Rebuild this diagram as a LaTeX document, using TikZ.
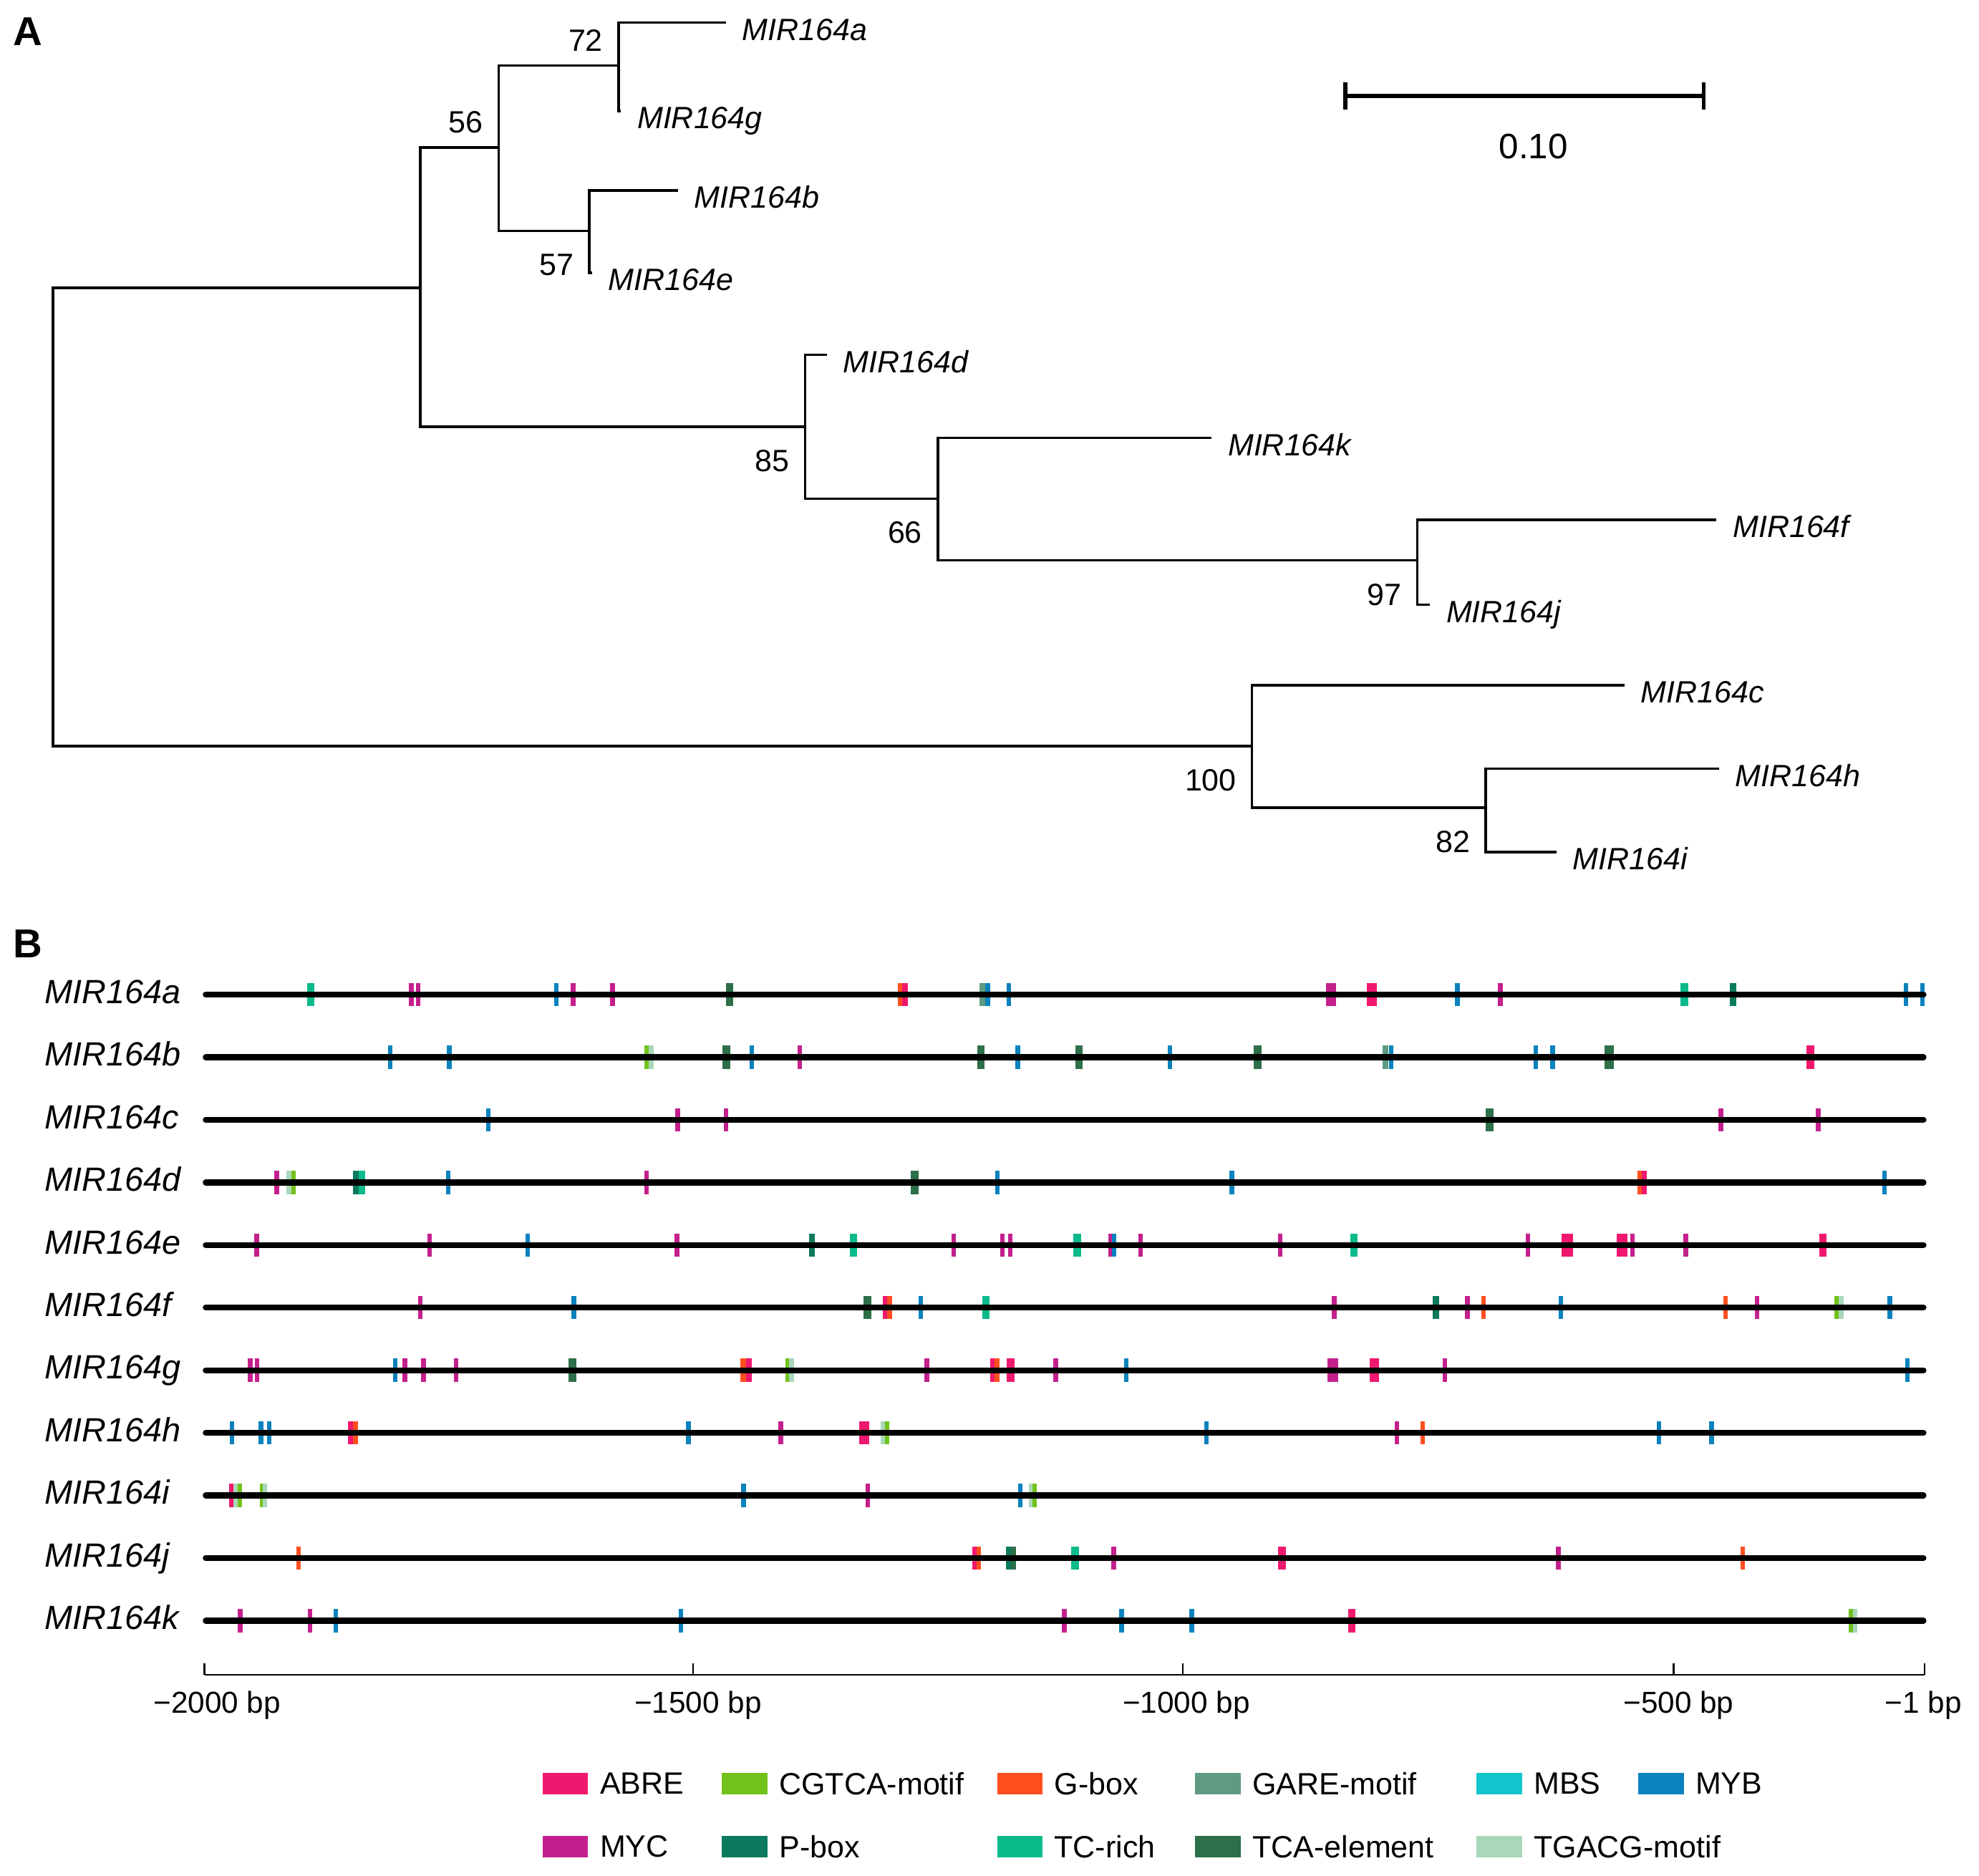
\documentclass[tikz,border=0pt]{standalone}
\usepackage{fontspec}
\setmainfont{Liberation Sans}
\usetikzlibrary{calc,positioning}

\definecolor{abre}{HTML}{F0186E}
\definecolor{cgtca}{HTML}{72C21C}
\definecolor{gbox}{HTML}{FF4F1F}
\definecolor{gare}{HTML}{5E9B80}
\definecolor{mbs}{HTML}{12C4CB}
\definecolor{myb}{HTML}{0A82BE}
\definecolor{myc}{HTML}{C4208D}
\definecolor{pbox}{HTML}{0B7A5D}
\definecolor{tcrich}{HTML}{0BBA8B}
\definecolor{tca}{HTML}{2D6F48}
\definecolor{tgacg}{HTML}{A8D8B9}

\tikzset{
  branch/.style={line width=1pt},
  leaf/.style={anchor=base west, inner sep=0pt, xshift=6pt, yshift=-7pt,
    font=\fontsize{12.2}{14}\selectfont\itshape},
  boot/.style={anchor=east, inner sep=0pt, font=\fontsize{12.2}{14}\selectfont},
  panel/.style={inner sep=0pt, font=\fontsize{16}{18}\selectfont\bfseries},
  rowlbl/.style={anchor=base west, inner sep=0pt, font=\fontsize{13.3}{15}\selectfont\itshape},
  seq/.style={line width=2.35pt, line cap=round},
  axis/.style={line width=0.65pt},
  ticklbl/.style={anchor=base, inner sep=0pt, font=\fontsize{12}{14}\selectfont},
  legtext/.style={anchor=west, inner sep=0pt, font=\fontsize{12.2}{14}\selectfont}
}

% motif marks of one promoter row: y, list of x/colour/width
\newcommand{\motifs}[2]{%
  \foreach \x/\c/\w in {#2}
    {\fill[\c] ({\x-\w/2},{#1-9.2}) rectangle ({\x+\w/2},{#1+9.2});}}

\begin{document}
\begin{tikzpicture}[x=0.5pt, y=-0.5pt]
  \useasboundingbox (0,0) rectangle (1568,1486);

  % panel letters
  \node[panel] (pA) at (22,25) {A};
  \node[panel] (pB) at (22,748) {B};

  % ---------------- A: tree ----------------
  \coordinate (root) at (42,410);
  \coordinate (n1) at (333,228);
  \coordinate (n2) at (395,117);
  \coordinate (n3) at (490,52);
  \coordinate (n4) at (467,183);
  \coordinate (n5) at (638,338);
  \coordinate (n6) at (743,395);
  \coordinate (n7) at (1123,444);
  \coordinate (n8) at (992,591);
  \coordinate (n9) at (1177,640);

  \coordinate (la) at (575,18);
  \coordinate (lg) at (492,88);
  \coordinate (lb) at (537,151);
  \coordinate (le) at (469,216);
  \coordinate (ld) at (655,281);
  \coordinate (lk) at (960,347);
  \coordinate (lf) at (1360,412);
  \coordinate (lj) at (1133,479);
  \coordinate (lc) at (1287,543);
  \coordinate (lh) at (1362,609);
  \coordinate (li) at (1233,675);

  \draw[branch] (root) |- (n1);
  \draw[branch] (root) |- (n8);
  \draw[branch] (n1) |- (n2);
  \draw[branch] (n1) |- (n5);
  \draw[branch] (n2) |- (n3);
  \draw[branch] (n2) |- (n4);
  \draw[branch] (n3) |- (la) node[leaf] {MIR164a};
  \draw[branch] (n3) |- (lg) node[leaf] {MIR164g};
  \draw[branch] (n4) |- (lb) node[leaf] {MIR164b};
  \draw[branch] (n4) |- (le) node[leaf] {MIR164e};
  \draw[branch] (n5) |- (ld) node[leaf] {MIR164d};
  \draw[branch] (n5) |- (n6);
  \draw[branch] (n6) |- (lk) node[leaf] {MIR164k};
  \draw[branch] (n6) |- (n7);
  \draw[branch] (n7) |- (lf) node[leaf] {MIR164f};
  \draw[branch] (n7) |- (lj) node[leaf] {MIR164j};
  \draw[branch] (n8) |- (lc) node[leaf] {MIR164c};
  \draw[branch] (n8) |- (n9);
  \draw[branch] (n9) |- (lh) node[leaf] {MIR164h};
  \draw[branch] (n9) |- (li) node[leaf] {MIR164i};

  % bootstrap values
  \node[boot] (b3) at ($(n3)+(-12,-20)$) {72};
  \node[boot] (b2) at ($(n2)+(-12,-20)$) {56};
  \node[boot] (b4) at ($(n4)+(-12,27)$) {57};
  \node[boot] (b5) at ($(n5)+(-12,27)$) {85};
  \node[boot] (b6) at ($(n6)+(-12,27)$) {66};
  \node[boot] (b7) at ($(n7)+(-12,27)$) {97};
  \node[boot] (b8) at ($(n8)+(-12,27)$) {100};
  \node[boot] (b9) at ($(n9)+(-12,27)$) {82};

  % scale bar
  \coordinate (sb1) at (1066,76);
  \coordinate (sb2) at (1350,76);
  \draw[line width=1.5pt] (sb1) -- (sb2);
  \draw[line width=1.5pt] ($(sb1)+(0,-11)$) -- ($(sb1)+(0,11)$);
  \draw[line width=1.5pt] ($(sb2)+(0,-11)$) -- ($(sb2)+(0,11)$);
  \node[inner sep=0pt, font=\fontsize{14}{16}\selectfont] (sbl) at (1215,116) {0.10};

  % ---------------- B: promoter motifs ----------------
  \motifs{788}{246.3/tcrich/6, 325.9/myc/3.6, 331.3/myc/3.6, 440.9/myb/3.6, 454.1/myc/3.6,
    485.3/myc/3.6, 578.1/tca/6, 713.5/gbox/4, 717/abre/5, 778.5/gare/4.5, 782.7/myb/4,
    799.2/myb/3.6, 1052.6/myc/4, 1056.5/myc/4, 1085.1/abre/4, 1088.7/abre/4, 1154.8/myb/3.6,
    1188.7/myc/3.6, 1334.4/tcrich/6, 1373.1/pbox/5, 1510/myb/3.6, 1523.3/myb/3.6}
  \motifs{837.6}{309.1/myb/3.6, 355.9/myb/3.6, 512.1/cgtca/3.6, 516/tgacg/3.6, 575.4/tca/6,
    595.5/myb/3.6, 633.7/myc/3.6, 777.3/tca/6, 806.4/myb/3.6, 855/tca/6, 927.1/myb/3.6,
    996.5/tca/6, 1097.7/gare/4.5, 1102.2/myb/3.6, 1217/myb/3.6, 1230.2/myb/3.6,
    1274.9/tca/7, 1434.4/abre/6}
  \motifs{887.2}{386.8/myb/3.6, 537/myc/3.6, 575.1/myc/3.6, 1180.3/tca/6, 1363.5/myc/3.6,
    1440.7/myc/3.6}
  \motifs{936.8}{219.3/myc/3.6, 228.9/tgacg/3.6, 232.5/cgtca/3.6, 282.3/pbox/5,
    286.8/tcrich/5, 355/myb/3.6, 512.4/myc/3.6, 724.7/tca/6, 790.2/myb/3.6, 976.1/myb/3.6,
    1298.9/gbox/3.6, 1302.8/abre/3.6, 1493.2/myb/3.6}
  \motifs{986.4}{203.4/myc/3.6, 340.3/myc/3.6, 418.1/myb/3.6, 536.4/myc/3.6, 643.3/pbox/5,
    676.1/tcrich/6, 755.7/myc/3.6, 794.1/myc/3.6, 800.4/myc/3.6, 853.5/tcrich/6, 880/myc/3.6,
    882.7/myb/3.6, 903.7/myc/3.6, 1014.2/myc/3.6, 1072.8/tcrich/6, 1210.6/myc/3.6,
    1239.8/abre/5, 1244/abre/5, 1283.6/abre/5, 1287.2/abre/5, 1293.5/myc/3.6, 1335.6/myc/3.6,
    1444.3/abre/6}
  \motifs{1036}{333.1/myc/3.6, 454.7/myb/3.6, 687.2/tca/6, 701/abre/3.6, 704.9/gbox/3.6,
    729.5/myb/3.6, 781.2/tcrich/6, 1057.1/myc/3.6, 1137.7/pbox/5, 1162.6/myc/3.6,
    1175.5/gbox/3.6, 1236.8/myb/3.6, 1367.1/gbox/3.6, 1392/myc/3.6, 1455.4/cgtca/3.6,
    1458.7/tgacg/3.6, 1497.4/myb/3.6}
  \motifs{1085.6}{198.2/myc/3.6, 203.7/myc/3.6, 313.3/myb/3.6, 320.8/myc/3.6, 335.5/myc/3.6,
    361.3/myc/3.6, 453.5/tca/6, 589.2/gbox/5, 593.4/abre/5, 624.1/cgtca/3.6, 627.1/tgacg/3.6,
    734.3/myc/3.6, 786.3/abre/4, 789.9/gbox/4, 800.7/abre/6, 836.4/myc/3.6, 892.3/myb/3.6,
    1054/myc/4, 1058/myc/4, 1087/abre/4, 1090.5/abre/4, 1144.6/myc/3.6, 1511.2/myb/3.6}
  \motifs{1135.2}{183.8/myb/3.6, 206.7/myb/3.6, 213.3/myb/3.6, 277.8/abre/4, 281.7/gbox/4,
    545.4/myb/3.6, 618.7/myc/3.6, 683/abre/4, 686.5/abre/4, 699.8/tgacg/3.6, 702.8/cgtca/3.6,
    955.9/myb/3.6, 1106.7/myc/3.6, 1127.2/gbox/3.6, 1314.5/myb/3.6, 1356/myb/3.6}
  \motifs{1184.8}{183.2/abre/3.6, 186.8/tgacg/3.6, 190.1/cgtca/3.6, 207.6/cgtca/3.6,
    210/tgacg/3.6, 589.2/myb/3.6, 687.5/myc/3.6, 808.2/myb/3.6, 816.9/tgacg/3.6,
    819.9/cgtca/3.6}
  \motifs{1234.4}{236.6/gbox/3.6, 771.9/abre/3.6, 775.5/gbox/3.6, 799/pbox/4, 803/tca/4,
    851.7/tcrich/6, 882.4/myc/3.6, 1015.7/abre/6, 1234.7/myc/3.6, 1380.8/gbox/3.6}
  \motifs{1284}{190.4/myc/3.6, 245.7/myc/3.6, 265.9/myb/3.6, 539.5/myb/3.6, 843.3/myc/3.6,
    888.7/myb/3.6, 944.2/myb/3.6, 1071/abre/6, 1466.8/cgtca/3.6, 1470/tgacg/3.6}

  % sequences and their names
  \foreach \g/\Y in {a/788, b/837.6, c/887.2, d/936.8, e/986.4, f/1036, g/1085.6,
                     h/1135.2, i/1184.8, j/1234.4, k/1284} {
    \node[rowlbl] (row\g) at (35,\Y+7) {MIR164\g};
    \draw[seq] (163,\Y) -- (1524,\Y);
  }

  % position axis
  \draw[axis] (162,1327) -- (1525,1327);
  \foreach \x/\lx/\t in {162/172/{−2000 bp}, 549/553/{−1500 bp}, 937/940/{−1000 bp},
                         1326/1330/{−500 bp}, 1525/1524/{−1 bp}} {
    \draw[axis] (\x,1327) -- (\x,1318);
    \node[ticklbl] at (\lx,1357.5) {\t};
  }

  % legend
  \foreach \name/\c/\x/\y in {ABRE/abre/430/1413, CGTCA-motif/cgtca/572/1413,
      G-box/gbox/790/1413, GARE-motif/gare/947/1413, MBS/mbs/1170/1413, MYB/myb/1298/1413,
      MYC/myc/430/1463, P-box/pbox/572/1463, TC-rich/tcrich/790/1463,
      TCA-element/tca/947/1463, TGACG-motif/tgacg/1170/1463} {
    \fill[\c] (\x,\y-8.5) rectangle (\x+36,\y+8.5);
    \node[legtext] (lg-\c) at (\x+45,\y) {\name};
  }
\end{tikzpicture}
\end{document}
